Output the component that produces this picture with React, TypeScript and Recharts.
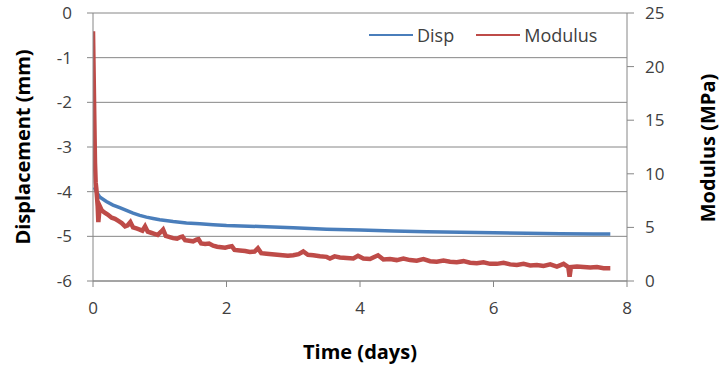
import React from "react";
import {
  ComposedChart,
  Line,
  XAxis,
  YAxis,
  CartesianGrid,
  Legend,
  Label,
} from "recharts";

// Displacement series (left axis, mm)
const dispTime = [
  0.02, 0.05, 0.1, 0.2, 0.3, 0.4, 0.5, 0.6, 0.7, 0.8, 0.9, 1.0, 1.2, 1.4, 1.6,
  1.8, 2.0, 2.5, 3.0, 3.5, 4.0, 4.5, 5.0, 5.5, 6.0, 6.5, 7.0, 7.5, 7.75,
];
const dispValues = [
  -3.9, -4.0, -4.12, -4.22, -4.3, -4.36, -4.42, -4.48, -4.53, -4.57, -4.6,
  -4.63, -4.67, -4.7, -4.72, -4.74, -4.76, -4.78, -4.81, -4.84, -4.86, -4.88,
  -4.9, -4.91, -4.92, -4.93, -4.94, -4.95, -4.95,
];

// Modulus series (right axis, MPa)
const modTime = [
  0.0, 0.02, 0.03, 0.04, 0.05, 0.06, 0.07, 0.08, 0.09, 0.1, 0.13, 0.17, 0.22,
  0.28, 0.33, 0.38, 0.43, 0.48, 0.52, 0.56, 0.6, 0.65, 0.7, 0.74, 0.78, 0.82,
  0.87, 0.92, 0.97, 1.02, 1.05, 1.09, 1.15, 1.2, 1.26, 1.31, 1.34, 1.38, 1.44,
  1.5, 1.55, 1.58, 1.62, 1.68, 1.74, 1.8, 1.86, 1.92, 1.98, 2.04, 2.08, 2.12,
  2.2, 2.28, 2.35, 2.42, 2.47, 2.52, 2.6, 2.68, 2.76, 2.84, 2.92, 3.0, 3.08,
  3.15, 3.22, 3.3, 3.4, 3.5, 3.55, 3.62, 3.7, 3.8, 3.9, 3.97, 4.05, 4.15, 4.27,
  4.35, 4.45, 4.55, 4.65, 4.75, 4.85, 4.95, 5.05, 5.15, 5.25, 5.35, 5.45, 5.55,
  5.65, 5.75, 5.85, 5.95, 6.05, 6.15, 6.25, 6.35, 6.45, 6.55, 6.65, 6.75, 6.85,
  6.95, 7.05, 7.12, 7.14, 7.16, 7.25, 7.35, 7.45, 7.55, 7.65, 7.75,
];
const modValues = [
  23.3, 15.0, 11.0, 9.2, 8.6, 7.8, 7.0, 5.5, 6.2, 7.0, 6.6, 6.4, 6.2, 5.9, 5.8,
  5.6, 5.4, 5.1, 5.2, 5.5, 5.0, 4.9, 4.8, 4.7, 5.1, 4.6, 4.5, 4.4, 4.3, 4.6,
  4.8, 4.2, 4.1, 4.0, 3.95, 4.1, 4.15, 3.8, 3.75, 3.7, 3.85, 3.9, 3.5, 3.45,
  3.5, 3.3, 3.2, 3.15, 3.1, 3.2, 3.25, 2.9, 2.85, 2.8, 2.7, 2.75, 3.05, 2.6,
  2.55, 2.5, 2.45, 2.4, 2.35, 2.4, 2.5, 2.75, 2.45, 2.4, 2.3, 2.25, 2.1, 2.3,
  2.2, 2.15, 2.1, 2.35, 2.1, 2.05, 2.4, 2.0, 2.05, 1.95, 2.1, 1.95, 1.9, 2.05,
  1.85, 1.8, 1.9, 1.8, 1.75, 1.85, 1.7, 1.65, 1.75, 1.6, 1.6, 1.7, 1.55, 1.5,
  1.6, 1.45, 1.5, 1.4, 1.55, 1.35, 1.6, 1.3, 0.4, 1.3, 1.35, 1.3, 1.25, 1.3,
  1.2, 1.2,
];

const timeTicks = [0, 2, 4, 6, 8];
const dispTicks = [-6, -5, -4, -3, -2, -1, 0];
const modTicks = [0, 5, 10, 15, 20, 25];

const dispData = dispTime.map((t, i) => ({ t, disp: dispValues[i] }));
const modData = modTime.map((t, i) => ({ t, modulus: modValues[i] }));

const BLUE = "#4a7ebb";
const RED = "#be4b48";
const AXIS = "#868686";
const FONT = "'Open Sans', sans-serif";
const tickStyle = { fill: "#404040", fontSize: 17, fontFamily: FONT };

const legendItems = [
  { name: "Disp", color: BLUE },
  { name: "Modulus", color: RED },
];

const renderLegend = () => (
  <div style={{ display: "flex", alignItems: "center", fontFamily: FONT }}>
    {legendItems.map((item) => (
      <div
        key={item.name}
        style={{ display: "flex", alignItems: "center", marginRight: 22 }}
      >
        <div
          style={{ width: 44, height: 2, background: item.color, marginRight: 4 }}
        />
        <span style={{ fontSize: 18, color: "#404040", lineHeight: "22px" }}>
          {item.name}
        </span>
      </div>
    ))}
  </div>
);

const titleStyle = {
  fontFamily: FONT,
  fontWeight: 700,
  fontSize: 20,
  fill: "#000",
};

export default function App() {
  return (
    <div style={{ width: 722, height: 367, background: "#fff" }}>
      <style>{`body{margin:0}`}</style>
      <ComposedChart
        width={722}
        height={367}
        margin={{ top: 13, right: 0, bottom: 0, left: 0 }}
      >
        <CartesianGrid
          yAxisId="left"
          vertical={false}
          stroke={AXIS}
          strokeWidth={1}
        />
        <XAxis
          type="number"
          dataKey="t"
          domain={[0, 8]}
          ticks={timeTicks}
          height={86}
          stroke={AXIS}
          tickSize={6}
          tickMargin={15}
          tick={tickStyle}
          allowDataOverflow
        >
          <Label
            content={() => (
              <text x={360} y={359} textAnchor="middle" style={titleStyle}>
                Time (days)
              </text>
            )}
          />
        </XAxis>
        <YAxis
          yAxisId="left"
          domain={[-6, 0]}
          ticks={dispTicks}
          width={93}
          stroke={AXIS}
          tickSize={6}
          tickMargin={15}
          tick={tickStyle}
        >
          <Label
            content={() => (
              <text
                x={0}
                y={0}
                textAnchor="middle"
                transform="translate(30,147) rotate(-90)"
                style={titleStyle}
              >
                Displacement (mm)
              </text>
            )}
          />
        </YAxis>
        <YAxis
          yAxisId="right"
          orientation="right"
          domain={[0, 25]}
          ticks={modTicks}
          width={95}
          stroke={AXIS}
          tickSize={7}
          tickMargin={11}
          tick={tickStyle}
        >
          <Label
            content={() => (
              <text
                x={0}
                y={0}
                textAnchor="middle"
                transform="translate(715,148) rotate(-90)"
                style={titleStyle}
              >
                Modulus (MPa)
              </text>
            )}
          />
        </YAxis>
        <Legend
          content={renderLegend}
          layout="horizontal"
          verticalAlign="middle"
          align="center"
          wrapperStyle={{ position: "absolute", top: 24, left: 369, width: 280 }}
        />
        <Line
          yAxisId="left"
          data={dispData}
          dataKey="disp"
          name="Disp"
          stroke={BLUE}
          strokeWidth={3.5}
          dot={false}
          isAnimationActive={false}
        />
        <Line
          yAxisId="right"
          data={modData}
          dataKey="modulus"
          name="Modulus"
          stroke={RED}
          strokeWidth={4.5}
          dot={false}
          isAnimationActive={false}
        />
      </ComposedChart>
    </div>
  );
}
